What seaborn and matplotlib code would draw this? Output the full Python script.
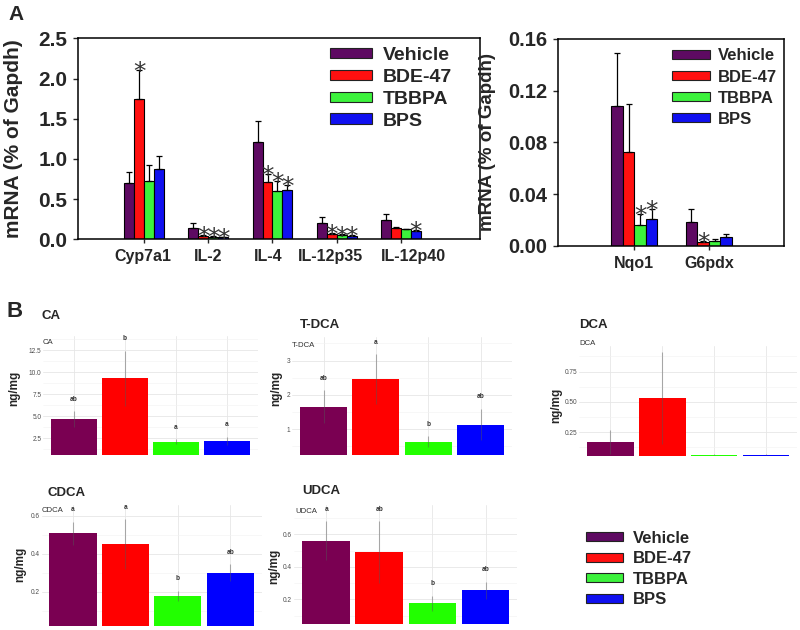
import numpy as np
import pandas as pd
import matplotlib
matplotlib.use('Agg')
import matplotlib.pyplot as plt
import matplotlib.transforms as mtransforms
from matplotlib.patches import Patch
from matplotlib.ticker import MultipleLocator
import seaborn as sns

# treatment groups and colours
treatments = ['Vehicle', 'BDE-47', 'TBBPA', 'BPS']
colors_a = ['#5E0A62', '#FF1010', '#3CF23C', '#1010F0']
colors_b = ['#7A0052', '#FF0000', '#22FF00', '#0000FF']

# panel A, left: mRNA (% of Gapdh)
genes_left = ['Cyp7a1', 'IL-2', 'IL-4', 'IL-12p35', 'IL-12p40']
vehicle_left = [0.705, 0.145, 1.215, 0.207, 0.24]
bde_left = [1.74, 0.04, 0.71, 0.066, 0.137]
tbbpa_left = [0.725, 0.03, 0.60, 0.05, 0.124]
bps_left = [0.87, 0.025, 0.61, 0.04, 0.108]
vehicle_left_se = [0.137, 0.054, 0.26, 0.075, 0.075]
bde_left_se = [0.37, 0.012, 0.10, 0.012, 0.01]
tbbpa_left_se = [0.20, 0.008, 0.12, 0.01, 0.008]
bps_left_se = [0.166, 0.006, 0.07, 0.008, 0.008]
# (gene, treatment) pairs marked with *
stars_left = [(0, 1), (1, 1), (1, 2), (1, 3), (2, 1), (2, 2), (2, 3),
              (3, 1), (3, 2), (3, 3), (4, 3)]

# panel A, right
genes_right = ['Nqo1', 'G6pdx']
vehicle_right = [0.1084, 0.0183]
bde_right = [0.073, 0.0028]
tbbpa_right = [0.016, 0.0036]
bps_right = [0.0209, 0.0072]
vehicle_right_se = [0.041, 0.010]
bde_right_se = [0.037, 0.0012]
tbbpa_right_se = [0.0085, 0.002]
bps_right_se = [0.0075, 0.002]
stars_right = [(0, 2), (0, 3), (1, 1)]

# panel B: bile acids, ng/mg
ca = [4.7, 9.3, 2.1, 2.2]
ca_se = [0.9, 3.1, 0.3, 0.5]
ca_letters = ['ab', 'b', 'a', 'a']
tdca = [1.65, 2.45, 0.63, 1.13]
tdca_se = [0.48, 0.73, 0.16, 0.46]
tdca_letters = ['ab', 'a', 'b', 'ab']
dca = [0.172, 0.535, 0.066, 0.066]
dca_se = [0.10, 0.38, 0.005, 0.005]
dca_letters = ['', '', '', '']
cdca = [0.507, 0.451, 0.179, 0.30]
cdca_se = [0.06, 0.13, 0.027, 0.046]
cdca_letters = ['a', 'a', 'b', 'ab']
udca = [0.561, 0.492, 0.175, 0.255]
udca_se = [0.12, 0.19, 0.048, 0.053]
udca_letters = ['a', 'ab', 'b', 'ab']

sns.set_theme(style='white')
plt.rcParams['font.family'] = ['Liberation Sans', 'DejaVu Sans']

W, H = 800, 630
fig = plt.figure(figsize=(W / 100, H / 100), dpi=100)


def px_axes(x0, y0, x1, y1):
    return fig.add_axes([x0 / W, 1 - y1 / H, (x1 - x0) / W, (y1 - y0) / H])


def ftext(x, y, s, **kw):
    fig.text(x / W, 1 - y / H, s, **kw)


def qpcr_panel(ax, genes, series, errors, stars, xlim, ymax, yticks, fmt, tick_fs,
               label_shift=None):
    df = pd.DataFrame({
        'gene': np.tile(genes, len(treatments)),
        'treatment': np.repeat(treatments, len(genes)),
        'value': np.concatenate(series),
    })
    sns.barplot(data=df, x='gene', y='value', hue='treatment', hue_order=treatments,
                palette=colors_a, saturation=1, width=0.62, gap=0, errorbar=None,
                legend=False, edgecolor='black', linewidth=0.8, ax=ax)
    star_tr = mtransforms.offset_copy(ax.transData, fig=fig, x=0, y=-6.5, units='points')
    bar_groups = list(ax.containers)
    for i, cont in enumerate(bar_groups):
        for j, bar in enumerate(cont.patches):
            x = bar.get_x() + bar.get_width() / 2
            h = bar.get_height()
            e = errors[i][j]
            ax.errorbar(x, h, yerr=[[0], [e]], fmt='none', ecolor='black',
                        elinewidth=0.9, capsize=2, capthick=0.9, zorder=3)
            if (j, i) in stars:
                ax.text(x, h + e, '*', transform=star_tr, ha='center', va='baseline',
                        fontsize=18, family='DejaVu Sans', color='#333333')
    ax.set_xlim(*xlim)
    ax.set_ylim(0, ymax)
    ax.set_yticks(yticks)
    ax.set_yticklabels([fmt.format(t) for t in yticks], fontsize=tick_fs, fontweight='bold')
    # tick marks at group centres; names on minor ticks, nudged like the original
    shift = label_shift if label_shift else [0] * len(genes)
    ax.xaxis.remove_overlapping_locs = False
    ax.set_xticks(range(len(genes)))
    ax.set_xticklabels([])
    ax.set_xticks([k + s for k, s in enumerate(shift)], minor=True)
    ax.set_xticklabels(genes, minor=True, fontsize=11.5, fontweight='bold')
    ax.set_xlabel('')
    ax.set_ylabel('')
    ax.tick_params(axis='y', left=True, direction='out', length=3.5, width=1, pad=4)
    ax.tick_params(axis='x', which='major', bottom=True, direction='out', length=3, width=1)
    ax.tick_params(axis='x', which='minor', bottom=True, length=0, pad=7)
    for sp in ax.spines.values():
        sp.set_visible(True)
        sp.set_color('black')
        sp.set_linewidth(1.1)


def add_legend(ax, x, y, fs, hl, htp, ls):
    handles = [Patch(facecolor=c, edgecolor='#222222', linewidth=0.8) for c in colors_a]
    ax.legend(handles, treatments, loc='upper left', bbox_to_anchor=(x / W, 1 - y / H),
              bbox_transform=fig.transFigure, frameon=False, borderpad=0, borderaxespad=0,
              handlelength=hl, handleheight=0.45, handletextpad=htp, labelspacing=ls,
              prop={'weight': 'bold', 'size': fs})


def acid_panel(rect, values, errors, letters, ylim, yticks, fmt, minor):
    ax = px_axes(*rect)
    df = pd.DataFrame({'treatment': treatments, 'value': values})
    sns.barplot(data=df, x='treatment', y='value', hue='treatment', palette=colors_b,
                saturation=1, width=0.9, errorbar=None, legend=False, linewidth=0, ax=ax)
    ax.set_axisbelow(True)
    bars = list(ax.patches)
    for j, bar in enumerate(bars):
        x = bar.get_x() + bar.get_width() / 2
        v, e = values[j], errors[j]
        ax.vlines(x, v - e, v + e, color='#555555', alpha=0.45, lw=0.8, zorder=3)
        if letters[j]:
            ax.annotate(letters[j], (x, v + e), xytext=(0, 8.6), textcoords='offset points',
                        ha='center', va='center', fontsize=4.7, fontweight='bold',
                        color='#333333', annotation_clip=False)
    ax.set_xlim(-0.6, 3.6)
    ax.set_ylim(*ylim)
    ax.set_yticks(yticks)
    ax.set_yticklabels([fmt.format(t) for t in yticks], fontsize=4.7, color='#4D4D4D')
    ax.yaxis.set_minor_locator(MultipleLocator(minor))
    ax.set_xticks(range(4))
    ax.set_xticklabels([])
    ax.set_xlabel('')
    ax.set_ylabel('')
    ax.tick_params(which='both', length=0, pad=1.5)
    ax.grid(which='major', axis='both', color='#E6E6E6', lw=0.6)
    ax.grid(which='minor', axis='y', color='#F2F2F2', lw=0.4)
    for sp in ax.spines.values():
        sp.set_visible(False)
    return ax


# ---- panel A ----
ax1 = px_axes(77.7, 38.3, 480, 239.3)
qpcr_panel(ax1, genes_left, [vehicle_left, bde_left, tbbpa_left, bps_left],
           [vehicle_left_se, bde_left_se, tbbpa_left_se, bps_left_se], stars_left,
           (-1.032, 5.23), 2.5, [0, 0.5, 1.0, 1.5, 2.0, 2.5], '{:.1f}', 15,
           label_shift=[-0.023, 0, -0.07, -0.1, 0.195])
add_legend(ax1, 330, 47, 14, 2.16, 0.55, 0.25)

ax2 = px_axes(558, 39, 784, 246)
qpcr_panel(ax2, genes_right, [vehicle_right, bde_right, tbbpa_right, bps_right],
           [vehicle_right_se, bde_right_se, tbbpa_right_se, bps_right_se], stars_right,
           (-1.025, 2.01), 0.16, [0, 0.04, 0.08, 0.12, 0.16], '{:.2f}', 14.5)
add_legend(ax2, 671.7, 48.4, 12, 2.28, 0.48, 0.37)

ftext(14, 139, 'mRNA (% of Gapdh)', rotation=90, ha='center', va='center',
      fontsize=15, fontweight='bold')
ftext(487, 142, 'mRNA (% of Gapdh)', rotation=90, ha='center', va='center',
      fontsize=13.5, fontweight='bold')
ftext(8, 20, 'A', fontsize=15, fontweight='bold', va='baseline')

# ---- panel B ----
acid_panel((43.4, 336, 257.6, 455), ca, ca_se, ca_letters, (0.61, 14.09),
           [2.5, 5.0, 7.5, 10.0, 12.5], '{:.1f}', 1.25)
acid_panel((292.3, 337, 511.9, 455), tdca, tdca_se, tdca_letters, (0.24, 3.69),
           [1, 2, 3], '{:d}', 0.5)
acid_panel((579.2, 346, 797, 456), dca, dca_se, dca_letters, (0.054, 0.961),
           [0.25, 0.50, 0.75], '{:.2f}', 0.125)
acid_panel((41.6, 505, 261.7, 626), cdca, cdca_se, cdca_letters, (0.02, 0.656),
           [0.2, 0.4, 0.6], '{:.1f}', 0.1)
acid_panel((294.3, 505, 517.4, 624), udca, udca_se, udca_letters, (0.049, 0.78),
           [0.2, 0.4, 0.6], '{:.1f}', 0.1)

ftext(7, 317, 'B', fontsize=16, fontweight='bold', va='baseline')

titles = [('CA', 41, 319, 43, 344, 14, 388),
          ('T-DCA', 300, 328, 292, 347, 276, 388),
          ('DCA', 579, 328, 579, 345, 556, 405),
          ('CDCA', 47, 496, 42, 512, 20, 564),
          ('UDCA', 302, 494, 295, 513, 274, 566)]
for name, tx, ty, sx, sy, lx, ly in titles:
    ftext(tx, ty, name, fontsize=9.5, fontweight='bold', va='baseline')
    ftext(sx, sy, name, fontsize=5.6, color='#333333', va='baseline')
    ftext(lx, ly, 'ng/mg', rotation=90, ha='center', va='center',
          fontsize=8.5, fontweight='bold')

# bottom legend
leg_ax = px_axes(560, 520, 790, 620)
leg_ax.axis('off')
add_legend(leg_ax, 586, 530.7, 12, 2.22, 0.6, 0.33)

fig.savefig('out.png', dpi=100)
